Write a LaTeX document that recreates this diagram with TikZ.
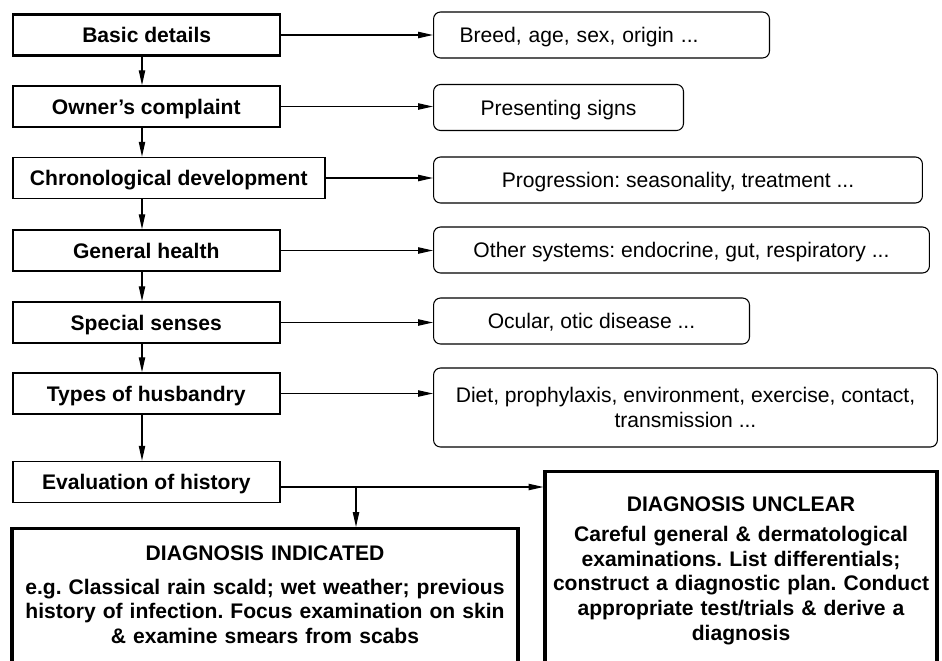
\documentclass[tikz,border=0pt]{standalone}
\usepackage{fontspec}
\setmainfont{Liberation Sans}
\usetikzlibrary{arrows.meta}
\frenchspacing

\begin{document}
\begin{tikzpicture}[x=0.02cm,y=-0.02cm,
 every node/.style={font=\fontsize{12}{14}\selectfont},
 stage/.style={draw,line width=0.9pt,minimum width=5.34cm,minimum height=0.82cm,inner sep=0pt,anchor=west,text height=8.6pt,text depth=0pt,font=\fontsize{12}{14}\selectfont\bfseries},
 info/.style={draw,line width=0.6pt,rounded corners=4pt,minimum height=0.92cm,inner sep=0pt,anchor=west,align=center,text height=8.6pt,text depth=0pt},
 outcome/.style={draw,line width=1.8pt,anchor=north,align=center,text depth=4.5cm,inner xsep=0.05cm,font=\fontsize{12}{14}\selectfont\bfseries},
 arr/.style={-{Triangle[length=8.5pt,width=3.6pt]},line width=0.7pt}]
 \useasboundingbox (0,0) rectangle (942,660);
 \clip (0,0) rectangle (942,660);
 \coordinate (spine) at (142,0);
 \node[stage,line width=1.4pt] (basic) at (12,35) {Basic details};
 \node[stage] (owner) at (12,106.5) {Owner's complaint};
 \node[stage,minimum width=6.24cm] (chrono) at (12,178) {Chronological development};
 \node[stage] (health) at (12,250.5) {General health};
 \node[stage] (senses) at (12,322.5) {Special senses};
 \node[stage] (husbandry) at (12,393.5) {Types of husbandry};
 \node[stage] (evaluation) at (12,482) {Evaluation of history};
 \node[info,text width=5.68cm,inner xsep=0.52cm,align=left] (breed) at (433,35) {Breed, age, sex, origin ...};
 \node[info,minimum width=5cm] (signs) at (433,107.5) {Presenting signs};
 \node[info,minimum width=9.78cm] (progress) at (433,180) {Progression: seasonality, treatment ...};
 \node[info,minimum width=9.92cm] (systems) at (433,250) {Other systems: endocrine, gut, respiratory ...};
 \node[info,minimum width=6.32cm] (ocular) at (433,321) {Ocular, otic disease ...};
 \node[info,minimum width=10.08cm,minimum height=1.58cm,text height=22.6pt] (diet) at (433,407.5) {Diet, prophylaxis, environment, exercise, contact,\\ transmission ...};
 \node[outcome,text width=10.02cm,inner ysep=0.35cm] (diagind) at (265,527) {DIAGNOSIS INDICATED\\[5pt] e.g. Classical rain scald; wet weather; previous\\ history of infection. Focus examination on skin\\ \& examine smears from scabs};
 \node[outcome,text width=7.74cm,inner ysep=0.51cm] (diagunc) at (741,470) {DIAGNOSIS UNCLEAR\\[3pt] Careful general \& dermatological\\ examinations. List differentials;\\ construct a diagnostic plan. Conduct\\ appropriate test/trials \& derive a\\ diagnosis};
 \foreach \a/\b in {basic/owner,owner/chrono,chrono/health,health/senses,senses/husbandry,husbandry/evaluation}
  \draw[arr] (\a.south -| spine) -- (\b.north -| spine);
 \foreach \a/\b in {basic/breed,owner/signs,chrono/progress,health/systems,senses/ocular,husbandry/diet}
  \draw[arr] (\a.east) -- (\a.east -| \b.west);
 \coordinate (fork) at (356,487);
 \draw[arr] (evaluation.east |- fork) -- (fork -| diagunc.west);
 \draw[arr] (fork) -- (fork |- diagind.north);
\end{tikzpicture}
\end{document}
